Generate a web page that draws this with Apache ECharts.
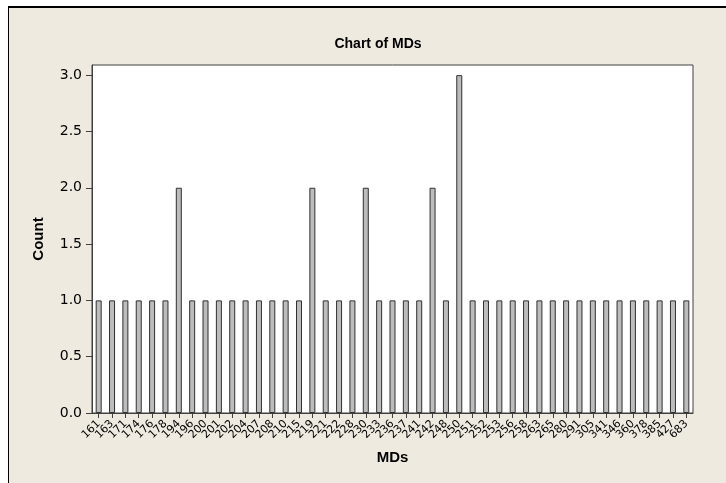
<!DOCTYPE html>
<html>
<head>
<meta charset="utf-8">
<script src="https://cdn.jsdelivr.net/npm/echarts@6/dist/echarts.min.js"></script>
<style>
html,body{margin:0;padding:0;background:#fff;}
#wrap{position:relative;width:726px;height:483px;overflow:hidden;background:#fff;}
#frame{position:absolute;left:8px;top:6px;right:0;bottom:0;background:#eeeae0;border-top:2px solid #000;border-left:1px solid #000;}
#chart{position:absolute;left:0;top:0;width:726px;height:483px;}
</style>
</head>
<body>
<div id="wrap"><div id="frame"></div><div id="chart"></div></div>
<script>
const categories = ['161','163','171','174','176','178','194','196','200','201','202','204','207','208','210','215','219','221','222','228','230','233','236','237','241','242','248','250','251','252','253','256','258','263','265','280','291','305','341','346','360','378','385','427','683'];
const counts = [1,1,1,1,1,1,2,1,1,1,1,1,1,1,1,1,2,1,1,1,2,1,1,1,1,2,1,3,1,1,1,1,1,1,1,1,1,1,1,1,1,1,1,1,1];
const yTicks = [0,0.5,1.0,1.5,2.0,2.5,3.0];
const chartTitle = 'Chart of MDs';
const xName = 'MDs';
const yName = 'Count';

const chart = echarts.init(document.getElementById('chart'));
const font = '"DejaVu Sans", Tahoma, sans-serif';
const boldFont = '"Liberation Sans", Arial, sans-serif';
chart.setOption({
  backgroundColor: 'transparent',
  animation: false,
  title: {
    text: chartTitle, left: 373, top: 32, textAlign: 'center',
    textStyle: {fontFamily: boldFont, fontSize: 14, fontWeight: 'bold', color: '#000'}
  },
  grid: {
    left: 92, top: 65, width: 601, height: 348,
    show: true, backgroundColor: '#fff', borderColor: '#404040', borderWidth: 1
  },
  xAxis: {
    type: 'category', data: categories, boundaryGap: true,
    name: xName, nameLocation: 'middle', nameGap: 37,
    nameTextStyle: {fontFamily: boldFont, fontSize: 15, fontWeight: 'bold', color: '#000'},
    axisLine: {show: true, lineStyle: {color: '#404040', width: 1}},
    axisTick: {show: true, alignWithLabel: true, length: 5, lineStyle: {color: '#404040'}},
    axisLabel: {interval: 0, rotate: 45, fontFamily: font, fontSize: 11, color: '#000', margin: 9},
    splitLine: {show: false}
  },
  yAxis: {
    type: 'value', min: 0, max: 3.09,
    name: yName, nameLocation: 'middle', nameGap: 46,
    nameTextStyle: {fontFamily: boldFont, fontSize: 15, fontWeight: 'bold', color: '#000'},
    axisLine: {show: true, lineStyle: {color: '#404040', width: 1}},
    axisTick: {show: true, length: 6, customValues: yTicks, lineStyle: {color: '#404040'}},
    axisLabel: {customValues: yTicks, fontFamily: font, fontSize: 14, color: '#000', margin: 10,
      formatter: v => Number(v).toFixed(1)},
    splitLine: {show: false}
  },
  series: [{
    type: 'bar', data: counts, barWidth: 6,
    itemStyle: {color: '#bcbcbc', borderColor: '#303030', borderWidth: 1}
  }]
});
</script>
</body>
</html>
